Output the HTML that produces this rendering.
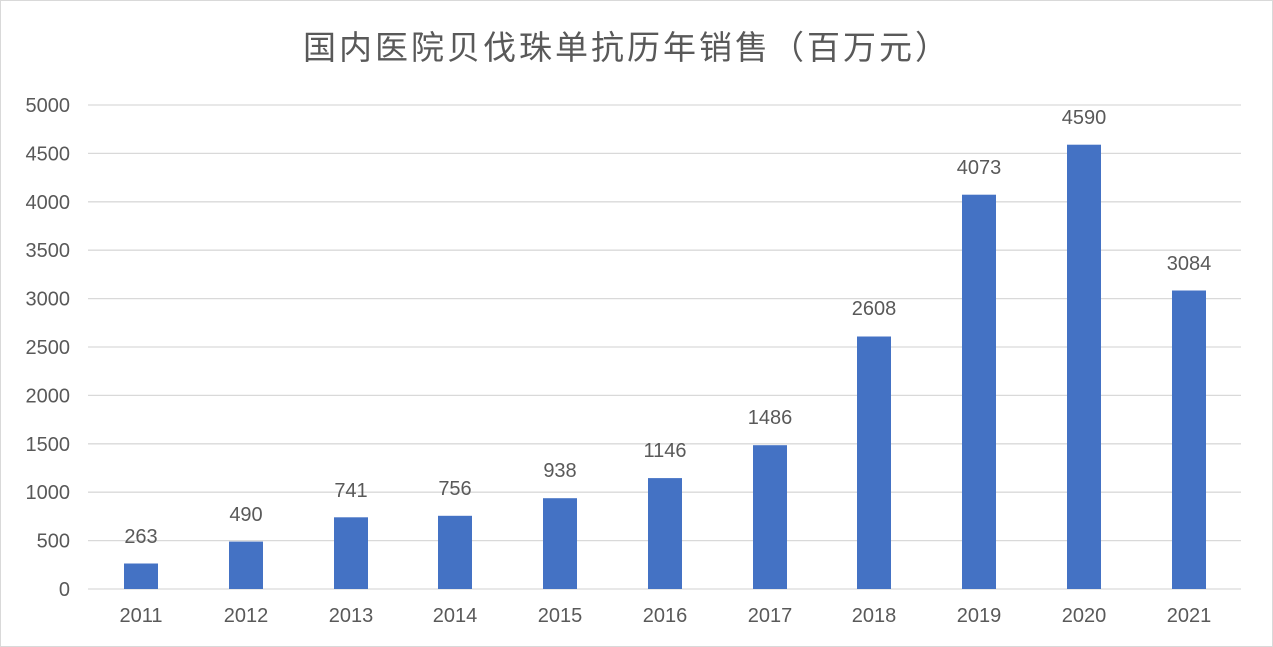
<!DOCTYPE html>
<html><head><meta charset="utf-8"><style>
html,body{margin:0;padding:0;background:#fff;}
svg{display:block;}
text{font-family:"Liberation Sans","Noto Sans CJK SC",sans-serif;fill:#595959;}
</style></head><body>
<svg width="1273" height="647" viewBox="0 0 1273 647" xmlns="http://www.w3.org/2000/svg">
<rect x="0.5" y="0.5" width="1272" height="646" fill="#fff" stroke="#d9d9d9"/>
<text x="627" y="59" font-size="33" text-anchor="middle" style="letter-spacing:3px">国内医院贝伐珠单抗历年销售（百万元）</text>
<g stroke="#d9d9d9" stroke-width="1.3">
<line x1="88" x2="1241" y1="105" y2="105"/>
<line x1="88" x2="1241" y1="153.4" y2="153.4"/>
<line x1="88" x2="1241" y1="201.8" y2="201.8"/>
<line x1="88" x2="1241" y1="250.2" y2="250.2"/>
<line x1="88" x2="1241" y1="298.6" y2="298.6"/>
<line x1="88" x2="1241" y1="347" y2="347"/>
<line x1="88" x2="1241" y1="395.4" y2="395.4"/>
<line x1="88" x2="1241" y1="443.8" y2="443.8"/>
<line x1="88" x2="1241" y1="492.2" y2="492.2"/>
<line x1="88" x2="1241" y1="540.6" y2="540.6"/>
<line x1="88" x2="1241" y1="589" y2="589"/>
</g>
<g font-size="20" text-anchor="end">
<text x="70" y="112">5000</text>
<text x="70" y="160.4">4500</text>
<text x="70" y="208.8">4000</text>
<text x="70" y="257.2">3500</text>
<text x="70" y="305.6">3000</text>
<text x="70" y="354">2500</text>
<text x="70" y="402.4">2000</text>
<text x="70" y="450.8">1500</text>
<text x="70" y="499.2">1000</text>
<text x="70" y="547.6">500</text>
<text x="70" y="596">0</text>
</g>
<g fill="#4472c4">
<rect x="124" y="563.5" width="34" height="25.5"/>
<rect x="229" y="541.6" width="34" height="47.4"/>
<rect x="334" y="517.3" width="34" height="71.7"/>
<rect x="438" y="515.8" width="34" height="73.2"/>
<rect x="543" y="498.2" width="34" height="90.8"/>
<rect x="648" y="478.1" width="34" height="110.9"/>
<rect x="753" y="445.2" width="34" height="143.8"/>
<rect x="857" y="336.5" width="34" height="252.5"/>
<rect x="962" y="194.7" width="34" height="394.3"/>
<rect x="1067" y="144.7" width="34" height="444.3"/>
<rect x="1172" y="290.5" width="34" height="298.5"/>
</g>
<g font-size="20" text-anchor="middle">
<text x="141" y="543">263</text>
<text x="246" y="521">490</text>
<text x="351" y="497">741</text>
<text x="455" y="495">756</text>
<text x="560" y="477">938</text>
<text x="665" y="457">1146</text>
<text x="770" y="424">1486</text>
<text x="874" y="315">2608</text>
<text x="979" y="174">4073</text>
<text x="1084" y="124">4590</text>
<text x="1189" y="270">3084</text>
</g>
<g font-size="20" text-anchor="middle">
<text x="141" y="622">2011</text>
<text x="246" y="622">2012</text>
<text x="351" y="622">2013</text>
<text x="455" y="622">2014</text>
<text x="560" y="622">2015</text>
<text x="665" y="622">2016</text>
<text x="770" y="622">2017</text>
<text x="874" y="622">2018</text>
<text x="979" y="622">2019</text>
<text x="1084" y="622">2020</text>
<text x="1189" y="622">2021</text>
</g>
</svg>
</body></html>
